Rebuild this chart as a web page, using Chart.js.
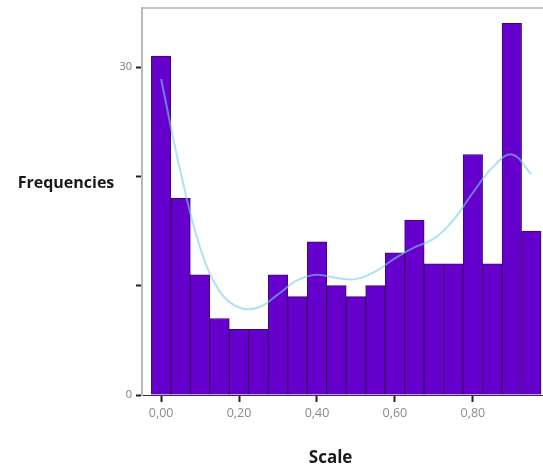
<!DOCTYPE html>
<html>
<head>
<meta charset="utf-8">
<script src="https://cdn.jsdelivr.net/npm/chart.js@4"></script>
<style>
  body { margin: 0; background: #fff; }
  canvas { display: block; }
</style>
</head>
<body>
<canvas id="chart" width="543" height="469"></canvas>
<script>
// bin centres of the histogram (width 0.05)
const binCenters = [0.00, 0.05, 0.10, 0.15, 0.20, 0.25, 0.30, 0.35, 0.40, 0.45,
                    0.50, 0.55, 0.60, 0.65, 0.70, 0.75, 0.80, 0.85, 0.90, 0.95];
const counts = [31, 18, 11, 7, 6, 6, 11, 9, 14, 10,
                9, 10, 13, 16, 12, 12, 22, 12, 34, 15];
// smoothed density curve read at the same bin centres
const curve = [28.9, 20.4, 13.5, 9.5, 8.0, 8.0, 9.2, 10.5, 11.0, 10.7,
               10.6, 11.3, 12.5, 13.5, 14.3, 16.0, 18.5, 20.8, 22.0, 20.2];
const xTicks = [0.00, 0.20, 0.40, 0.60, 0.80];
const yTicks = [0, 10, 20, 30];
const yLabeled = [0, 30];

const yTitle = "Frequencies";
const xTitle = "Scale";

const axisTitles = {
    id: "axisTitles",
    beforeDraw(chart) {
        const { ctx, chartArea } = chart;
        ctx.save();
        // top frame line
        ctx.strokeStyle = "#c4c4c4";
        ctx.lineWidth = 2;
        ctx.beginPath();
        ctx.moveTo(chartArea.left, chartArea.top);
        ctx.lineTo(chartArea.right, chartArea.top);
        ctx.stroke();
        ctx.restore();
    },
    afterDraw(chart) {
        const { ctx, scales } = chart;
        ctx.save();
        ctx.fillStyle = "#1a1a1a";
        ctx.font = "bold 16px 'Open Sans'";
        ctx.textAlign = "center";
        ctx.textBaseline = "alphabetic";
        ctx.fillText(yTitle, 66, scales.y.getPixelForValue(19.2) + 3);
        ctx.font = "bold 17px 'Open Sans'";
        ctx.fillText(xTitle, scales.x.getPixelForValue(0.435), 463);
        ctx.restore();
    }
};

const ctx = document.getElementById("chart").getContext("2d");

new Chart(ctx, {
    type: "bar",
    data: {
        datasets: [
            {
                type: "line",
                data: binCenters.map((x, i) => ({ x, y: curve[i] })),
                borderColor: "rgba(120, 205, 232, 0.6)",
                borderWidth: 2,
                pointRadius: 0,
                tension: 0.4,
                fill: false,
                order: 0,
            },
            {
                data: binCenters.map((x, i) => ({ x, y: counts[i] })),
                backgroundColor: "#6600cc",
                borderColor: "#3a0a6a",
                borderWidth: 1,
                barPercentage: 1,
                categoryPercentage: 1,
                order: 1,
            },
        ],
    },
    options: {
        responsive: false,
        animation: false,
        devicePixelRatio: 1,
        layout: { padding: { top: 8, left: 0, right: 0, bottom: 0 } },
        plugins: {
            legend: { display: false },
            tooltip: { enabled: false },
        },
        scales: {
            x: {
                type: "linear",
                offset: false,
                min: -0.049,
                max: 0.98,
                afterBuildTicks: (axis) => { axis.ticks = xTicks.map(v => ({ value: v })); },
                afterFit: (axis) => { axis.height = 74; },
                ticks: {
                    padding: 4,
                    autoSkip: false,
                    maxRotation: 0,
                    color: "#8a8a8a",
                    font: { family: "'Open Sans'", size: 12.5 },
                    callback: (v) => Number(v).toFixed(2).replace(".", ","),
                },
                grid: {
                    offset: false,
                    drawOnChartArea: false,
                    tickLength: 7,
                    tickWidth: 2,
                    tickColor: "#222",
                },
                border: { display: true, color: "#333", width: 1 },
            },
            y: {
                min: 0,
                max: 35.4,
                afterBuildTicks: (axis) => { axis.ticks = yTicks.map(v => ({ value: v })); },
                afterFit: (axis) => {
                    axis.width = 142;
                    axis.paddingTop = 0;
                    axis.paddingBottom = 0;
                },
                ticks: {
                    padding: 4,
                    color: "#7a7a7a",
                    font: { family: "'Open Sans'", size: 11 },
                    callback: (v) => (yLabeled.includes(v) ? String(v) : ""),
                },
                grid: {
                    drawOnChartArea: false,
                    tickLength: 6,
                    tickWidth: 2,
                    tickColor: "#222",
                },
                border: { display: true, color: "#b8b8b8", width: 2 },
            },
        },
    },
    plugins: [axisTitles],
});
</script>
</body>
</html>
